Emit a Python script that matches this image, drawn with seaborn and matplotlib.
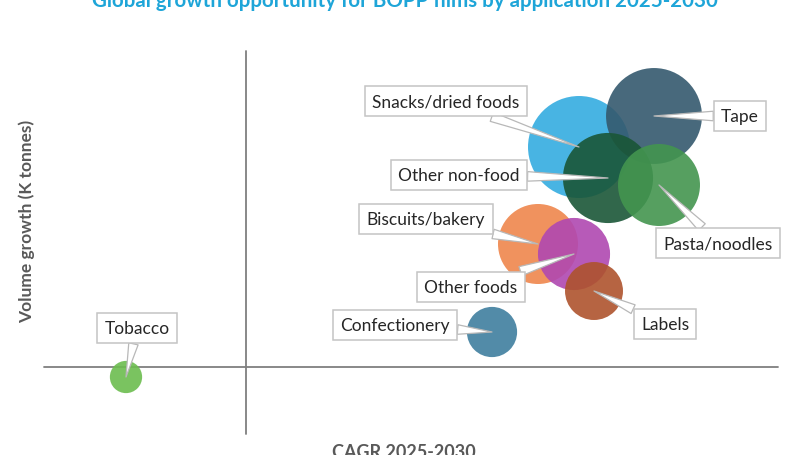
import matplotlib
matplotlib.use("Agg")
import matplotlib.pyplot as plt
import seaborn as sns
import pandas as pd

# ---- data ----
applications = ["Snacks/dried foods", "Tape", "Other non-food", "Pasta/noodles",
                "Biscuits/bakery", "Other foods", "Labels", "Confectionery", "Tobacco"]
cagr_pct = [6.66, 8.16, 7.24, 8.26, 5.84, 6.56, 6.96, 4.92, -2.40]
volume_growth = [220, 251, 189, 182, 123, 113, 76, 35, -10]
market_size = [260, 230, 203, 168, 160, 130, 84, 63, 26]
bubble_colors = ["#34ace0", "#34596e", "#1a5637", "#43954f", "#ef864c",
                 "#b048b1", "#ae532d", "#3f7f9f", "#6cbd4f"]

# label box positions (layout, data coords)
label_x = [4.00, 9.88, 4.26, 9.44, 3.60, 4.50, 8.38, 2.98, -2.18]
label_y = [266, 251, 192, 124, 148, 80, 43, 42, 39]

title = "Global growth opportunity for BOPP films by application 2025-2030"
x_title = "CAGR 2025-2030"
y_title = "Volume growth (K tonnes)"

df = pd.DataFrame({"app": applications, "cagr": cagr_pct,
                   "growth": volume_growth, "size": market_size})

sns.set_theme(style="white")
plt.rcParams["font.family"] = ["Lato", "DejaVu Sans"]

fig = plt.figure(figsize=(8.1, 4.56), dpi=100)
ax = fig.add_axes([0, 0, 1, 1])
ax.set_xlim(-4.92, 11.28)
ax.set_ylim(-88, 368)
ax.axis("off")

# quadrant axes
ax.plot([-4.04, 10.64], [0, 0], color="#7f7f7f", lw=1.3, zorder=1)
ax.plot([0, 0], [-67, 316], color="#7f7f7f", lw=1.3, zorder=1)

max_size = max(market_size)
sns.scatterplot(data=df, x="cagr", y="growth", hue="app",
                palette=dict(zip(applications, bubble_colors)),
                size="size", sizes=(0, 20.74 * max_size), size_norm=(0, max_size),
                alpha=0.9, edgecolor="none", legend=False, ax=ax, zorder=2)
ax.set_xlabel("")
ax.set_ylabel("")

for name, x, y, lx, ly in zip(applications, cagr_pct, volume_growth, label_x, label_y):
    ax.annotate(name, xy=(x, y), xytext=(lx, ly), ha="center", va="center",
                fontsize=12.5, color="#262626", zorder=5,
                bbox=dict(boxstyle="square,pad=0.42", fc="white", ec="#c4c4c4", lw=1.1),
                arrowprops=dict(arrowstyle="wedge,tail_width=0.55,shrink_factor=0.5",
                                fc="white", ec="#b8b8b8", lw=0.9,
                                shrinkA=0, shrinkB=0))

fig.text(405 / 810, 1 - 7 / 456, title, ha="center", va="baseline",
         fontsize=14.75, fontweight="bold", color="#1ea5d8")
fig.text(404 / 810, 1 - 444 / 456, x_title, ha="center", va="top",
         fontsize=13, fontweight="bold", color="#595959")
fig.text(27 / 810, 1 - 221 / 456, y_title, ha="center", va="center", rotation=90,
         fontsize=12.5, fontweight="bold", color="#595959")

fig.savefig("out.png", dpi=100)
